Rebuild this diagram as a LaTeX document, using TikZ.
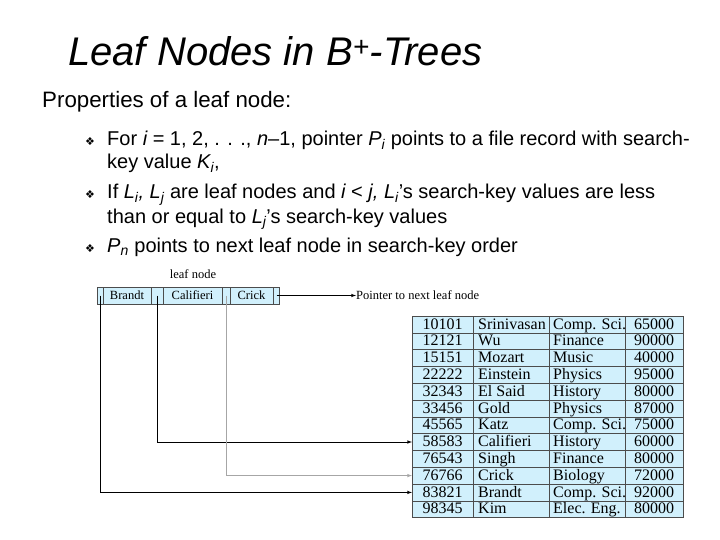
\documentclass[tikz,border=0pt]{standalone}
\usepackage{fontspec}
\setmainfont{Liberation Sans}
\newfontfamily\dejavu{DejaVu Sans}
\newfontfamily\bookfont{Liberation Serif}
\usetikzlibrary{positioning}

\tikzset{
  bodytext/.style={anchor=base west, inner sep=0pt, font=\fontsize{20}{24}\selectfont},
  bulletmark/.style={anchor=base west, inner sep=0pt, font=\dejavu\fontsize{11}{12}\selectfont},
  cellbox/.style={draw=black!70, fill=cyan!18, line width=0.5pt},
  celltext/.style={inner sep=0pt, font=\bookfont\fontsize{12.5}{14}\selectfont},
  tabletext/.style={inner sep=0pt, anchor=base, font=\bookfont\fontsize{16}{18}\selectfont},
  ptrline/.style={draw, line width=0.6pt, -latex}
}

\begin{document}
\begin{tikzpicture}[x=1pt, y=-1pt]
\useasboundingbox (0,0) rectangle (720,540);

% heading
\node[anchor=base west, inner sep=0pt, font=\itshape\fontsize{40}{44}\selectfont] (title) at (68,66) {Leaf Nodes in B\textsuperscript{+}-Trees};
\node[anchor=base west, inner sep=0pt, font=\fontsize{22.3}{26}\selectfont] (intro) at (42,108) {Properties of a leaf node:};

% bullets
\node[bulletmark] (b1) at (85,146) {❖};
\node[bulletmark] (b2) at (85,199) {❖};
\node[bulletmark] (b3) at (85,252) {❖};
\node[bodytext] (t1) at (107,146) {For {\itshape i} = 1, 2, . . ., {\itshape n}–1, pointer {\itshape P\textsubscript{i}} points to a file record with search-};
\node[bodytext] (t1b) at (107,169) {key value {\itshape K\textsubscript{i}},};
\node[bodytext] (t2) at (107,199) {If {\itshape L\textsubscript{i}, L\textsubscript{j}} are leaf nodes and {\itshape i} < {\itshape j, L\textsubscript{i}}’s search-key values are less};
\node[bodytext] (t2b) at (107,223) {than or equal to {\itshape L\textsubscript{j}}’s search-key values};
\node[bodytext] (t3) at (107,252) {{\itshape P\textsubscript{n}} points to next leaf node in search-key order};

% leaf node
\node[celltext] (leaflabel) at (193,274) {leaf node};
\foreach \xa/\xb/\nm/\txt in {97/103/p1/, 103/151/k1/Brandt, 151/163/p2/, 163/222/k2/Califieri, 222/230/p3/, 230/273/k3/Crick, 273/279/p4/} {
  \draw[cellbox] (\xa,287) rectangle (\xb,304);
  \node[celltext] (\nm) at ({(\xa+\xb)/2},295.5) {\txt};
}
\node[celltext, anchor=west] (next) at (356,295.5) {Pointer to next leaf node};

% file table
\foreach \id/\name/\dept/\sal [count=\r from 0] in {10101/Srinivasan/Comp. Sci./65000, 12121/Wu/Finance/90000, 15151/Mozart/Music/40000, 22222/Einstein/Physics/95000, 32343/El Said/History/80000, 33456/Gold/Physics/87000, 45565/Katz/Comp. Sci./75000, 58583/Califieri/History/60000, 76543/Singh/Finance/80000, 76766/Crick/Biology/72000, 83821/Brandt/Comp. Sci./92000, 98345/Kim/Elec. Eng./80000} {
  \pgfmathsetmacro\ya{316+\r*16.8}
  \pgfmathsetmacro\yb{\ya+16.8}
  \draw[cellbox] (412,\ya) rectangle (473,\yb);
  \draw[cellbox] (473,\ya) rectangle (549,\yb);
  \draw[cellbox] (549,\ya) rectangle (625,\yb);
  \draw[cellbox] (625,\ya) rectangle (683,\yb);
  \coordinate (in\r) at (412,{\ya+8.4});
  \node[tabletext] (id\r) at (442.5,{\yb-3.8}) {\id};
  \node[tabletext, anchor=base west] (nm\r) at (478,{\yb-3.8}) {\name};
  \node[tabletext, anchor=base west] (dp\r) at (553,{\yb-3.8}) {\dept};
  \node[tabletext] (sl\r) at (654,{\yb-3.8}) {\sal};
}

% pointers
\draw[ptrline] (p4.east) -- (next.west);
\draw[ptrline] (p2.center) |- (in7);
\draw[ptrline, draw=black!35] (p3.center) |- (in9);
\draw[ptrline] (p1.center) |- (in10);
\end{tikzpicture}
\end{document}
